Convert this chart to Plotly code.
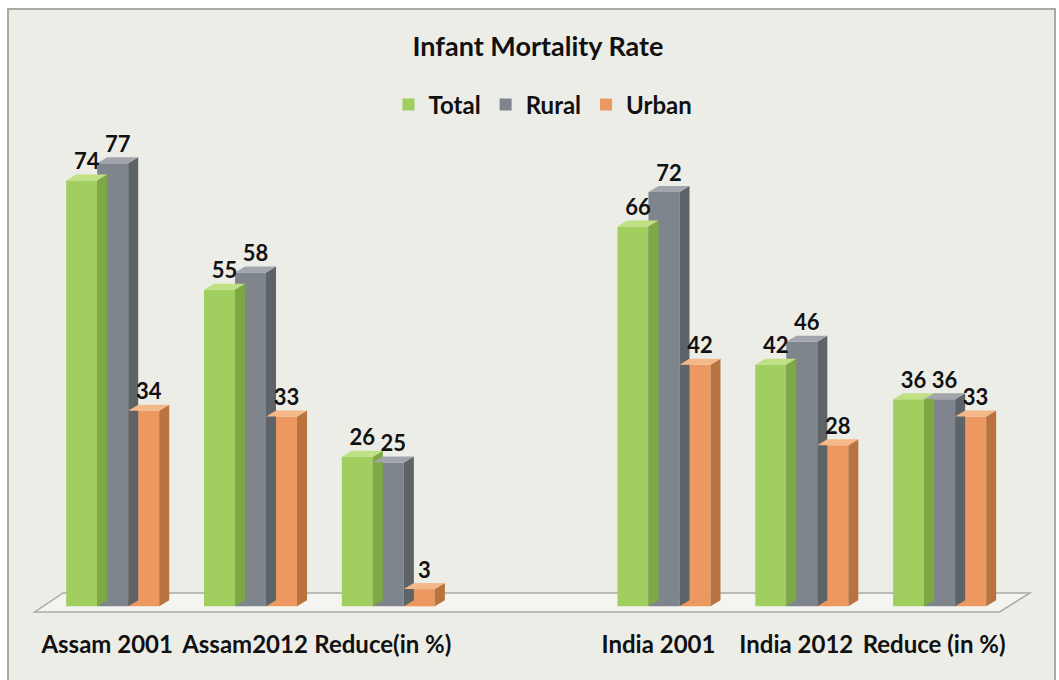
import plotly.graph_objects as go

# Infant mortality rate, Assam vs India
categories = ["Assam 2001", "Assam2012", "Reduce(in %)", "India 2001", "India 2012", "Reduce (in %)"]
total = [74, 55, 26, 66, 42, 36]
rural = [77, 58, 25, 72, 46, 36]
urban = [34, 33, 3, 42, 28, 33]

series = [
    ("Total", total, "#A0CE5F", "#7DA843", "#BFE083"),
    ("Rural", rural, "#7F858D", "#5E6368", "#A2A6AC"),
    ("Urban", urban, "#EC9860", "#B8733F", "#F5B889"),
]

# layout geometry (pixels)
W, H = 1059, 680
ML, MR, MT, MB = 30, 16, 146, 65
PW, PH = W - ML - MR, H - MT - MB
XR = [-0.6, 6.75]
YR = [-1.5, 80]
px_x = PW / (XR[1] - XR[0])
px_y = PH / (YR[1] - YR[0])

# slot positions: Assam group, one empty slot, India group
pos = [i if i < 3 else i + 1 for i in range(len(categories))]

BW = 0.225                 # bar front width
DX = 10 / px_x             # depth offset to the right
DY = 6 / px_y              # depth offset upwards

FONT = "Lato"
INK = "#111111"

fig = go.Figure()

# side and top faces of the 3D columns
for k, (name, vals, front, side, top) in enumerate(series):
    sx, sy, tx, ty = [], [], [], []
    for p, v in zip(pos, vals):
        xl = p - 1.5 * BW + k * BW
        xr = xl + BW
        sx += [xr, xr + DX, xr + DX, xr, xr, None]
        sy += [0, DY, v + DY, v, 0, None]
        tx += [xl, xl + DX, xr + DX, xr, xl, None]
        ty += [v, v + DY, v + DY, v, v, None]
    fig.add_trace(go.Scatter(x=sx, y=sy, fill="toself", fillcolor=side, mode="lines",
                             line=dict(width=0, color=side), showlegend=False, hoverinfo="skip"))
    fig.add_trace(go.Scatter(x=tx, y=ty, fill="toself", fillcolor=top, mode="lines",
                             line=dict(width=0, color=top), showlegend=False, hoverinfo="skip"))

# front faces
for k, (name, vals, front, side, top) in enumerate(series):
    fig.add_trace(go.Bar(
        x=pos, y=vals, name=name, width=BW, offset=-1.5 * BW + k * BW,
        marker=dict(color=front, line=dict(width=0)),
    ))

# value labels
for k, (name, vals, front, side, top) in enumerate(series):
    fig.add_trace(go.Scatter(
        x=[p - BW + k * BW + DX / 2 for p in pos],
        y=[v + DY for v in vals],
        text=[str(v) for v in vals],
        mode="text", textposition="top center", cliponaxis=False,
        textfont=dict(family=FONT, size=22, color=INK, weight="bold"),
        showlegend=False, hoverinfo="skip",
    ))

def paper_x(px):
    return (px - ML) / PW

def paper_y(py):
    return (MT + PH - py) / PH

shapes = [
    # chart panel with frame
    dict(type="rect", xref="paper", yref="paper",
         x0=paper_x(8), x1=paper_x(1055), y0=paper_y(692), y1=paper_y(9),
         fillcolor="#EDEDE8", line=dict(color="#ADA8A5", width=2), layer="below"),
    # floor
    dict(type="path", xref="x", yref="y", layer="below",
         path=f"M {XR[0] + 0.034},{-0.97} L 6.435,{-0.97} L 6.655,2.33 L -0.36,2.33 Z",
         fillcolor="#F4F4F0", line=dict(color="#A9A9A9", width=1.5)),
]

# category labels sit slightly left of the column fronts (perspective)
tick_pos = [p - 0.04 for p in pos]

fig.update_layout(
    width=W, height=H,
    margin=dict(l=ML, r=MR, t=MT, b=MB),
    paper_bgcolor="white", plot_bgcolor="rgba(0,0,0,0)",
    barmode="overlay",
    shapes=shapes,
    title=dict(text="Infant Mortality Rate", x=538 / W, xanchor="center",
               y=1 - 47 / H, yanchor="middle",
               font=dict(family=FONT, size=27, color=INK, weight="bold")),
    legend=dict(orientation="h", x=paper_x(543), xanchor="center",
                y=paper_y(105), yanchor="middle", bgcolor="rgba(0,0,0,0)",
                font=dict(family=FONT, size=24, color=INK, weight="bold"),
                itemwidth=30),
    xaxis=dict(range=XR, tickvals=tick_pos, ticktext=categories, showgrid=False,
               zeroline=False, showline=False, ticks="", ticklabelstandoff=13,
               tickfont=dict(family=FONT, size=24, color=INK, weight="bold")),
    yaxis=dict(range=YR, visible=False, showgrid=False, zeroline=False),
    showlegend=True,
)

fig.write_html("out.html")
